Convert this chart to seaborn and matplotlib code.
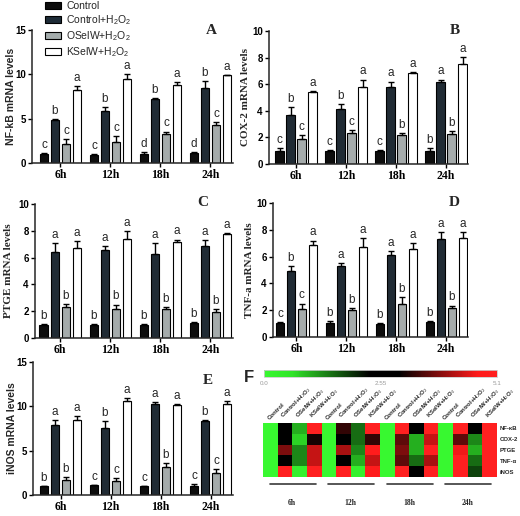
import numpy as np
import pandas as pd
import matplotlib
matplotlib.use('Agg')
import matplotlib.pyplot as plt
import seaborn as sns
from matplotlib.colors import LinearSegmentedColormap
from matplotlib.patches import Patch

sns.set_style('ticks')
plt.rcParams['font.family'] = ['Liberation Sans', 'DejaVu Sans']
plt.rcParams['mathtext.fontset'] = 'custom'
plt.rcParams['mathtext.rm'] = 'Liberation Sans'
plt.rcParams['mathtext.it'] = 'Liberation Sans:italic'
plt.rcParams['mathtext.bf'] = 'Liberation Sans:bold'

times = ['6h', '12h', '18h', '24h']
groups = ['Control', 'Control+H$_2$O$_2$', 'OSelW+H$_2$O$_2$', 'KSelW+H$_2$O$_2$']
bar_colors = ['#0d0d0d', '#1d2b37', '#a4acac', '#ffffff']

# rows = groups, columns = time points
nfkb_mean = [[1.05, 0.95, 1.0, 1.1], [4.9, 5.9, 7.2, 8.5], [2.1, 2.4, 3.25, 4.3], [8.25, 9.45, 8.8, 9.9]]
nfkb_err = [[0.08, 0.05, 0.25, 0.1], [0.05, 0.4, 0.15, 0.7], [0.6, 0.6, 0.3, 0.3], [0.4, 0.6, 0.35, 0.05]]
nfkb_sig = [['c', 'c', 'd', 'd'], ['b', 'b', 'b', 'b'], ['c', 'c', 'c', 'c'], ['a', 'a', 'a', 'a']]

cox2_mean = [[1.0, 1.0, 1.0, 1.0], [3.7, 4.15, 5.8, 6.15], [1.9, 2.35, 2.15, 2.25], [5.4, 5.8, 6.85, 7.55]]
cox2_err = [[0.2, 0.05, 0.05, 0.2], [0.55, 0.35, 0.4, 0.2], [0.25, 0.2, 0.2, 0.25], [0.1, 0.55, 0.05, 0.5]]
cox2_sig = [['c', 'c', 'c', 'b'], ['b', 'b', 'a', 'a'], ['c', 'c', 'b', 'b'], ['a', 'a', 'a', 'a']]

ptge_mean = [[1.0, 1.0, 1.0, 1.1], [6.45, 6.6, 6.3, 6.9], [2.35, 2.15, 2.2, 1.95], [6.7, 7.4, 7.2, 7.75]]
ptge_err = [[0.03, 0.03, 0.03, 0.1], [0.65, 0.25, 0.8, 0.4], [0.2, 0.35, 0.1, 0.2], [0.55, 0.55, 0.15, 0.05]]
ptge_sig = [['b', 'b', 'b', 'b'], ['a', 'a', 'a', 'a'], ['b', 'b', 'b', 'b'], ['a', 'a', 'a', 'a']]

tnf_mean = [[1.05, 1.05, 1.0, 1.1], [4.9, 5.3, 6.1, 7.3], [2.1, 2.0, 2.45, 2.2], [6.85, 6.7, 6.6, 7.4]]
tnf_err = [[0.1, 0.15, 0.03, 0.1], [0.4, 0.25, 0.3, 0.55], [0.4, 0.15, 0.5, 0.15], [0.35, 0.7, 0.4, 0.4]]
tnf_sig = [['c', 'b', 'b', 'b'], ['b', 'a', 'a', 'a'], ['c', 'b', 'b', 'b'], ['a', 'a', 'a', 'a']]

inos_mean = [[1.0, 1.1, 1.0, 1.0], [7.95, 7.6, 10.25, 8.3], [1.65, 1.55, 3.2, 2.45], [8.45, 10.6, 10.2, 10.3]]
inos_err = [[0.05, 0.05, 0.03, 0.2], [0.5, 0.7, 0.2, 0.2], [0.4, 0.4, 0.4, 0.5], [0.5, 0.3, 0.1, 0.3]]
inos_sig = [['b', 'c', 'c', 'c'], ['a', 'b', 'a', 'b'], ['b', 'c', 'b', 'c'], ['a', 'a', 'a', 'a']]

# heatmap (F)
heat_rows = ['NF-κB', 'COX-2', 'PTGE', 'TNF-α', 'iNOS']
heat_cols = ['Control', 'Control+H$_2$O$_2$', 'OSelW+H$_2$O$_2$', 'KSelW+H$_2$O$_2$'] * 4
heat_vals = [
    [0.0, 2.55, 1.0, 5.1, 0.0, 3.3, 1.5, 5.1, 0.0, 5.1, 2.55, 5.1, 0.0, 5.1, 2.55, 5.1],
    [0.0, 2.55, 0.75, 3.1, 0.0, 2.55, 1.5, 3.3, 0.0, 3.6, 1.0, 4.3, 0.0, 3.6, 1.3, 5.1],
    [0.0, 3.8, 1.3, 4.3, 0.0, 4.1, 1.3, 4.8, 0.0, 3.8, 1.0, 5.1, 0.0, 4.6, 1.0, 5.1],
    [0.0, 2.55, 1.3, 4.3, 0.0, 2.55, 1.0, 4.3, 0.0, 3.6, 1.5, 4.1, 0.0, 5.1, 1.5, 5.1],
    [0.0, 5.1, 0.25, 5.1, 0.0, 5.1, 0.25, 4.8, 0.0, 5.1, 2.55, 5.1, 0.0, 5.1, 1.8, 5.1],
]
cbar_ticks = [0.0, 2.55, 5.1]
cbar_labels = ['0.0', '2.55', '5.1']

W, H = 520, 516
fig = plt.figure(figsize=(W / 100, H / 100), dpi=100)


def px_axes(left, top, right, bottom):
    return fig.add_axes([left / W, 1 - bottom / H, (right - left) / W, (bottom - top) / H])


def bar_panel(rect, means, errs, sigs, ylabel, serif_label, ymax, ystep, xlim, lab_dx):
    ax = px_axes(*rect)
    rows = []
    for g, gname in enumerate(groups):
        for t, tname in enumerate(times):
            rows.append({'time': tname, 'group': gname, 'value': means[g][t]})
    df = pd.DataFrame(rows)
    sns.barplot(data=df, x='time', y='value', hue='group', order=times, hue_order=groups,
                palette=bar_colors, edgecolor='black', linewidth=0.8, width=0.88, gap=0.27,
                errorbar=None, legend=False, ax=ax)
    bar_sets = list(ax.containers)[:4]
    for g, cont in enumerate(bar_sets):
        xs = [b.get_x() + b.get_width() / 2 for b in cont]
        hs = [b.get_height() for b in cont]
        ax.errorbar(xs, hs, yerr=[np.zeros(4), errs[g]], fmt='none', ecolor='black',
                    elinewidth=1.0, capsize=2.2, capthick=1.0, zorder=1)
        for x, h, e, s in zip(xs, hs, errs[g], sigs[g]):
            ax.annotate(s, (x, h + e), xytext=(0, 1.5), textcoords='offset points',
                        ha='center', va='bottom', fontsize=8.5)
    ax.set_xlim(*xlim)
    ax.set_ylim(0, ymax)
    ax.set_yticks(np.arange(0, ymax + 0.01, ystep))
    ax.set_yticklabels([f'{int(v)}' for v in np.arange(0, ymax + 0.01, ystep)],
                       fontsize=7, fontweight='bold')
    ax.set_xticks(range(4))
    ax.set_xticklabels(times, family='Liberation Serif', fontweight='bold', fontsize=8.5)
    ax.set_xlabel('')
    if serif_label:
        ax.set_ylabel(ylabel, family='Liberation Serif', fontsize=8, fontweight='bold')
    else:
        ax.set_ylabel(ylabel, fontsize=7.5, fontweight='bold')
    ax.yaxis.label.set_va('center')
    ax.yaxis.set_label_coords(-lab_dx / (rect[2] - rect[0]), 0.5)
    sns.despine(ax=ax)
    for sp in ['left', 'bottom']:
        ax.spines[sp].set_linewidth(1.1)
    ax.tick_params(axis='both', length=3, width=1.0, pad=1.5, colors='black')
    return ax


bar_panel((32, 30, 233, 163), nfkb_mean, nfkb_err, nfkb_sig, 'NF-kB mRNA levels', False, 15, 5, (-0.57, 3.45), 21)
bar_panel((269, 31, 468, 164), cox2_mean, cox2_err, cox2_sig, 'COX-2 mRNA levels', True, 10, 2, (-0.54, 3.44), 24)
bar_panel((35, 204, 233, 338), ptge_mean, ptge_err, ptge_sig, 'PTGE mRNA levels', True, 10, 2, (-0.5, 3.45), 27)
bar_panel((273, 203, 468, 337), tnf_mean, tnf_err, tnf_sig, 'TNF-a mRNA levels', True, 10, 2, (-0.47, 3.44), 23)
bar_panel((33, 362, 233, 495), inos_mean, inos_err, inos_sig, 'iNOS mRNA levels', False, 15, 5, (-0.55, 3.45), 21)

for letter, x, y, fam in [('A', 211, 31, 'Liberation Serif'), ('B', 455, 30, 'Liberation Serif'),
                          ('C', 203, 202, 'Liberation Serif'), ('D', 454, 202, 'Liberation Serif'),
                          ('E', 208, 380, 'Liberation Serif'), ('F', 249, 378, 'Liberation Sans')]:
    fig.text(x / W, 1 - y / H, letter, family=fam, fontweight='bold',
             fontsize=11 if fam == 'Liberation Serif' else 12, ha='center', va='center')

handles = [Patch(facecolor=c, edgecolor='black', linewidth=0.8) for c in bar_colors]
fig.legend(handles, groups, loc='upper left', bbox_to_anchor=(45 / W, 1 - 1 / H), frameon=False,
           fontsize=7.5, handlelength=1.55, handleheight=0.7, handletextpad=0.5,
           labelspacing=0.22, borderpad=0, borderaxespad=0)

# heatmap F
cmap = LinearSegmentedColormap.from_list('gbr', [(0.0, '#38f830'), (0.12, '#30e428'), (0.45, '#000000'),
                                                 (0.58, '#000000'), (0.92, '#ff1a1a'), (1.0, '#ff2020')])
hax = px_axes(263, 423, 497, 477)
cax = px_axes(264, 370, 497, 377)
sns.heatmap(np.array(heat_vals), ax=hax, cmap=cmap, vmin=0, vmax=5.1, cbar_ax=cax,
            cbar_kws={'orientation': 'horizontal', 'ticks': cbar_ticks},
            xticklabels=heat_cols, yticklabels=heat_rows)
hax.xaxis.tick_top()
hax.set_xticklabels(heat_cols, rotation=45, ha='left', rotation_mode='anchor',
                    fontsize=4.3, fontweight='bold')
hax.yaxis.tick_right()
hax.set_yticklabels(heat_rows, rotation=0, fontsize=4.3, fontweight='bold')
hax.tick_params(length=0, pad=2)
for i, t in enumerate(times):
    hax.plot([4 * i + 0.45, 4 * i + 3.6], [5.65, 5.65], color='#3a3a3a', lw=1.2, clip_on=False)
    hax.text(4 * i + 2, 7.45, t, ha='center', va='center', family='Liberation Serif',
             fontweight='bold', fontsize=5.5)

cax.set_xticklabels(cbar_labels, fontsize=4.5, color='#9a9a9a')
cax.tick_params(length=0, pad=3)
cax.xaxis.set_ticks_position('bottom')
cbar = hax.collections[0].colorbar
cbar.outline.set_edgecolor('#cccccc')
cbar.outline.set_linewidth(0.6)

fig.savefig('out.png', dpi=100)
